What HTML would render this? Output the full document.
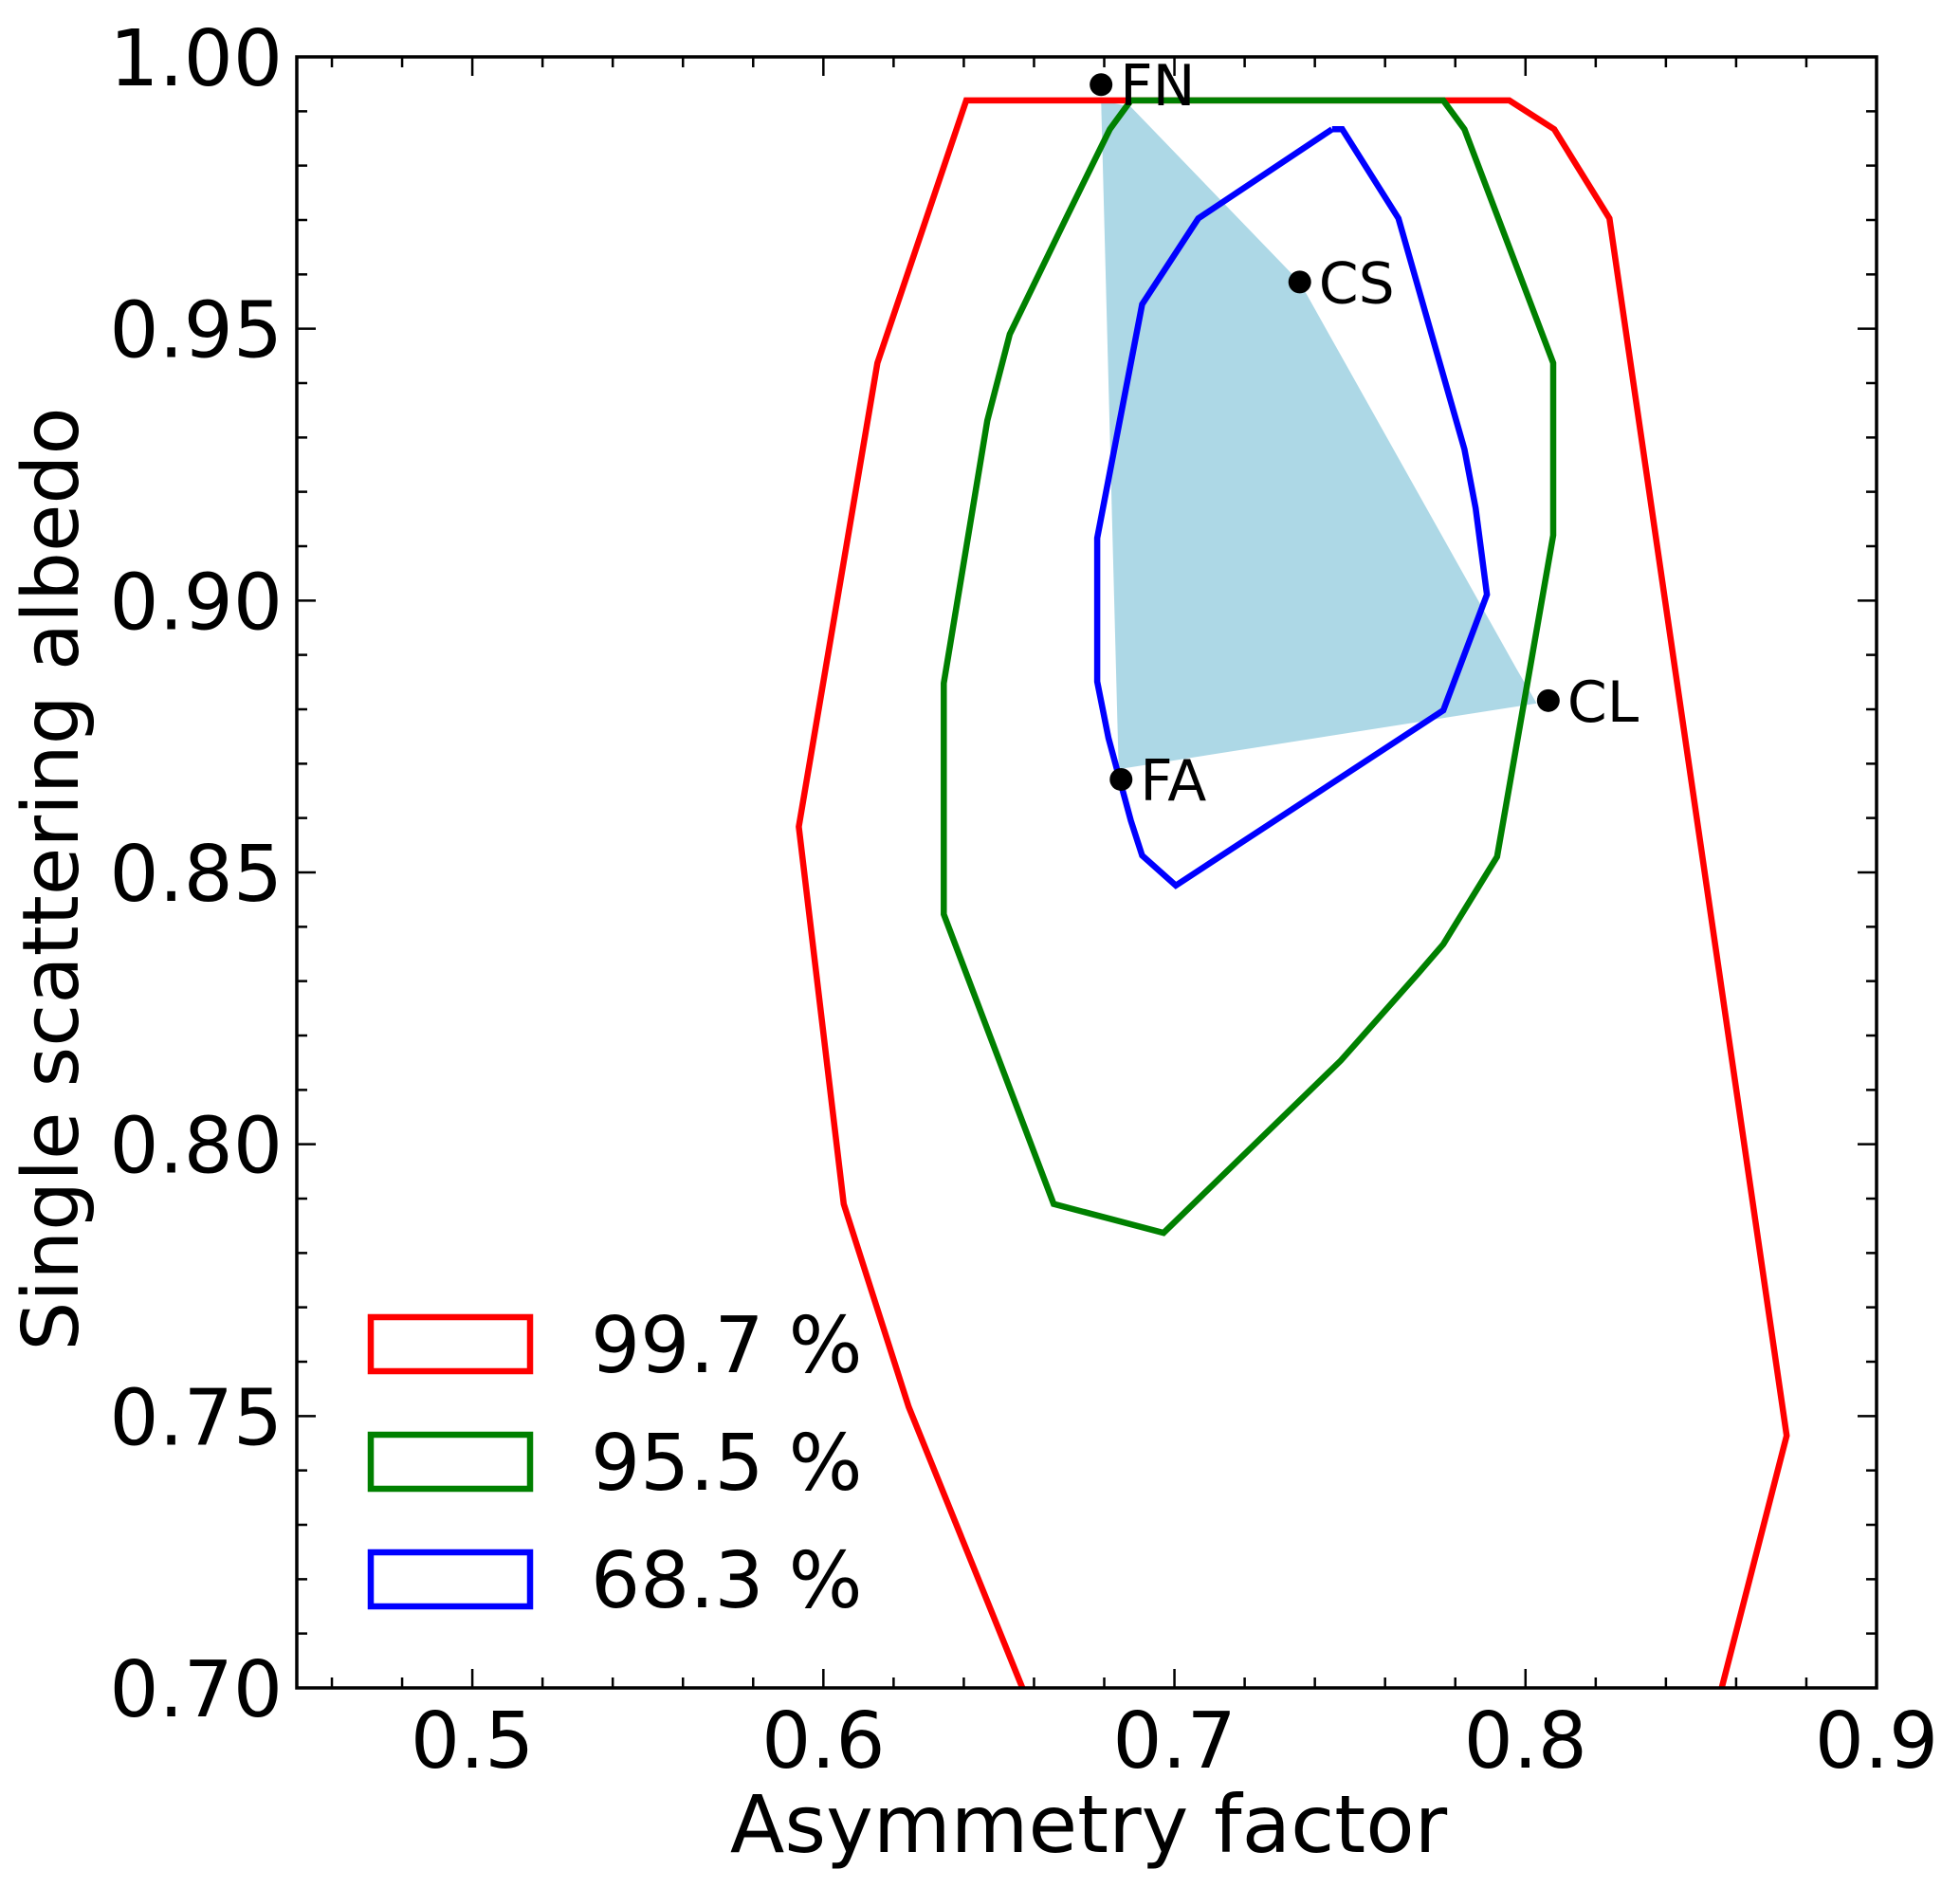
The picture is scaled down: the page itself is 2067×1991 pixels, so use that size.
<!DOCTYPE html>
<html><head><meta charset="utf-8"><style>
html,body{margin:0;padding:0;background:#fff;}
svg{display:block;font-family:"DejaVu Sans","Liberation Sans",sans-serif;}
</style></head><body>
<svg id="chart" width="2067" height="1991" viewBox="0 0 2067 1991" xmlns="http://www.w3.org/2000/svg">
<defs><clipPath id="plotclip"><rect x="313" y="60" width="1666" height="1720"/></clipPath></defs>
<g id="fills" clip-path="url(#plotclip)"></g>
<g id="lines" clip-path="url(#plotclip)"></g>
<g id="axes"></g>
<g id="points"></g>
<text x="1148" y="1953" font-size="84" text-anchor="middle">Asymmetry factor</text>
<text transform="translate(82,927) rotate(-90)" font-size="82" text-anchor="middle">Single scattering albedo</text>
<g id="legend">
<g><rect x="391" y="1389" width="168" height="57" fill="none" stroke="#ff0000" stroke-width="6.5"/><text x="623" y="1447" font-size="82">99.7 %</text></g>
<g><rect x="391" y="1513" width="168" height="57" fill="none" stroke="#008000" stroke-width="6.5"/><text x="623" y="1571" font-size="82">95.5 %</text></g>
<g><rect x="391" y="1637" width="168" height="57" fill="none" stroke="#0000ff" stroke-width="6.5"/><text x="623" y="1695" font-size="82">68.3 %</text></g>
</g>
</svg>
<script>
const xTicks = [0.5, 0.6, 0.7, 0.8, 0.9];
const xTickLabels = ["0.5", "0.6", "0.7", "0.8", "0.9"];
const yTicks = [0.70, 0.75, 0.80, 0.85, 0.90, 0.95, 1.00];
const yTickLabels = ["0.70", "0.75", "0.80", "0.85", "0.90", "0.95", "1.00"];
const red997 = [[0.6567,0.70],[0.6243,0.7517],[0.6058,0.789],[0.593,0.8584],[0.6154,0.9437],[0.6407,0.992],[0.7954,0.992],[0.8082,0.9867],[0.8239,0.9703],[0.8744,0.7464],[0.8559,0.70]];
const green955 = [[0.6876,0.992],[0.7766,0.992],[0.7826,0.9867],[0.8079,0.9437],[0.8079,0.912],[0.7919,0.8529],[0.7766,0.8368],[0.7695,0.8315],[0.7474,0.8154],[0.6969,0.7837],[0.6656,0.789],[0.6343,0.8423],[0.6343,0.8848],[0.6467,0.9331],[0.6531,0.949],[0.6691,0.9703],[0.6816,0.9867],[0.6876,0.992]];
const blue683 = [[0.7449,0.9867],[0.7478,0.9867],[0.7638,0.9703],[0.7826,0.9278],[0.7858,0.917],[0.789,0.9011],[0.7766,0.8798],[0.7004,0.8476],[0.6908,0.8531],[0.6876,0.8595],[0.6812,0.8747],[0.678,0.8851],[0.678,0.9115],[0.6908,0.9545],[0.7068,0.9703],[0.7449,0.9867]];
const hullFill = [[0.6791,0.992],[0.6876,0.9908],[0.7357,0.9586],[0.7975,0.8874],[0.8032,0.8811],[0.6841,0.8690]];
const pointNames = ["FN","CS","CL","FA"];
const pointX = [0.6791,0.7357,0.8065,0.6848];
const pointY = [0.9949,0.9586,0.8816,0.8671];

const X0=313,X1=1979,Y0=60,Y1=1780;
const xs=v=>X0+(v-0.45)/(0.9-0.45)*(X1-X0);
const ys=v=>Y1-(v-0.70)/(1.0-0.70)*(Y1-Y0);
const NS="http://www.w3.org/2000/svg";
function mk(tag,attrs,parent){const e=document.createElementNS(NS,tag);for(const k in attrs)e.setAttribute(k,attrs[k]);parent.appendChild(e);return e;}
const pts=a=>a.map(p=>xs(p[0]).toFixed(1)+","+ys(p[1]).toFixed(1)).join(" ");

const fills=document.getElementById('fills');
const hull=mk('polygon',{points:pts(hullFill),fill:'#add8e6',stroke:'none'},fills);



const lines=document.getElementById('lines');
const r=mk('polyline',{points:pts(red997),fill:'none',stroke:'#ff0000','stroke-width':6.5},lines);


const g=mk('polyline',{points:pts(green955),fill:'none',stroke:'#008000','stroke-width':6.5},lines);


const b=mk('polyline',{points:pts(blue683),fill:'none',stroke:'#0000ff','stroke-width':6.5},lines);



const axes=document.getElementById('axes');
const frame=mk('rect',{x:X0,y:Y0,width:X1-X0,height:Y1-Y0,fill:'none',stroke:'#000','stroke-width':3.5},axes);


let d='';
for(let i=0;i<=22;i++){const v=0.46+i*0.02;if(v>0.9001)break;const x=xs(v);const maj=Math.abs(v*10-Math.round(v*10))<1e-6;const L=maj?20:11;d+=`M${x},${Y1}v${-L}M${x},${Y0}v${L}`;}
for(let i=1;i<30;i++){const v=0.70+i*0.01;const y=ys(v);const maj=i%5===0;const L=maj?20:11;d+=`M${X0},${y}h${L}M${X1},${y}h${-L}`;}
const tk=mk('path',{d:d,stroke:'#000','stroke-width':2.5,fill:'none'},axes);


xTicks.forEach((v,i)=>{const t=mk('text',{x:xs(v),y:1864,'font-size':82,'text-anchor':'middle'},axes);t.textContent=xTickLabels[i];

});
yTicks.forEach((v,i)=>{const t=mk('text',{x:298,y:ys(v)+30,'font-size':82,'text-anchor':'end'},axes);t.textContent=yTickLabels[i];

});

const pg=document.getElementById('points');
pointNames.forEach((n,i)=>{const c=mk('circle',{cx:xs(pointX[i]),cy:ys(pointY[i]),r:12,fill:'#000'},pg);


const t=mk('text',{x:xs(pointX[i])+20,y:ys(pointY[i])+22,'font-size':60},pg);t.textContent=n;

});
</script>
</body></html>
